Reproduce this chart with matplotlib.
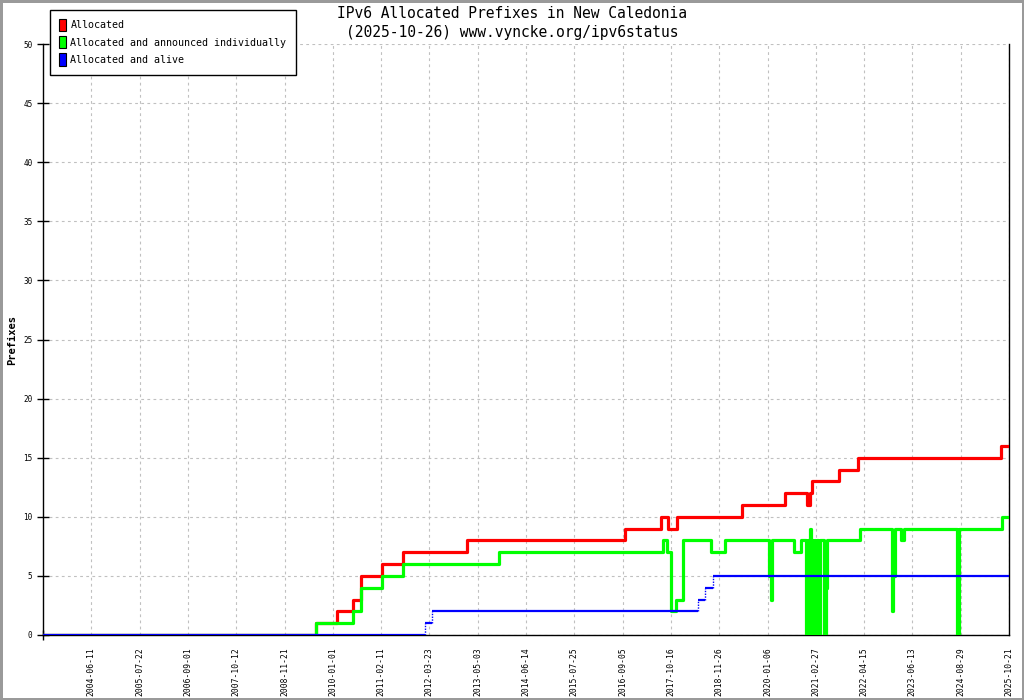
import numpy as np
import pandas as pd
import matplotlib
matplotlib.use('Agg')
import matplotlib.pyplot as plt
import matplotlib.dates as mdates
from matplotlib.patches import Patch

# Etiquetas del eje x (la escala del original es a tramos entre etiquetas)
x_knots = ['2003-05-02', '2004-06-11', '2005-07-22', '2006-09-01', '2007-10-12',
           '2008-11-21', '2010-01-01', '2011-02-11', '2012-03-23', '2013-05-03',
           '2014-06-14', '2015-07-25', '2016-09-05', '2017-10-16', '2018-11-26',
           '2020-01-06', '2021-02-27', '2022-04-15', '2023-06-13', '2024-08-29',
           '2025-10-21']

# Allocated
alloc_dates = ['2003-05-02', '2009-08-10', '2010-02-06', '2010-06-21', '2010-08-30',
               '2011-02-19', '2011-08-10', '2013-02-03', '2016-09-23', '2017-07-26',
               '2017-09-20', '2017-12-07', '2019-06-02', '2020-06-07', '2020-12-15',
               '2021-01-07', '2021-01-25', '2021-09-15', '2022-02-24', '2025-08-12',
               '2025-10-21']
alloc_vals = [0, 1, 2, 3, 5, 6, 7, 8, 9, 10, 9, 10, 11, 12, 11, 12, 13, 14, 15, 16, 16]

# Allocated and announced individually
announced_dates = ['2003-05-02', '2009-08-10', '2010-06-21', '2010-08-30', '2011-02-19',
                   '2011-08-10', '2013-10-27', '2017-08-07', '2017-09-14', '2017-10-15',
                   '2017-12-02', '2018-01-22', '2018-09-14', '2019-01-15', '2020-01-22',
                   '2020-02-04', '2020-02-17', '2020-08-22', '2020-10-26', '2020-12-08',
                   '2020-12-25', '2020-12-30', '2021-01-12', '2021-01-20', '2021-02-05',
                   '2021-02-19', '2021-02-24', '2021-03-13', '2021-03-17', '2021-04-07',
                   '2021-05-11', '2021-05-24', '2021-06-04', '2022-03-10', '2022-12-18',
                   '2022-12-28', '2023-01-10', '2023-03-09', '2023-03-30', '2024-07-30',
                   '2024-08-15', '2025-08-18', '2025-10-21']
announced_vals = [0, 1, 2, 4, 5, 6, 7, 8, 7, 2, 3, 8, 7, 8, 5, 3, 8, 7, 8, 0,
                  8, 0, 9, 8, 0, 8, 0, 8, 0, 8, 0, 4, 8, 9, 2, 5, 9, 8, 9, 0,
                  9, 10, 10]

# Allocated and alive
alive_dates = ['2003-05-02', '2012-02-19', '2012-04-10', '2018-06-02', '2018-07-28',
               '2018-10-03', '2025-10-21']
alive_vals = [0, 1, 2, 3, 4, 5, 5]

tick_labels = x_knots[1:]

def to_num(d):
    return mdates.date2num(pd.to_datetime(d))

knots = to_num(x_knots)
pos = np.arange(len(knots), dtype=float)

def fwd(x):
    return np.interp(x, knots, pos)

def inv(p):
    return np.interp(p, pos, knots)

mono = 'DejaVu Sans Mono'

fig = plt.figure(figsize=(10.24, 7), dpi=100)
fig.patch.set_edgecolor('#9a9a9a')
fig.patch.set_linewidth(2.5)
ax = fig.add_axes([43 / 1024, 65 / 700, 966 / 1024, 591 / 700])
ax.set_xscale('function', functions=(fwd, inv))

ax.step(to_num(alloc_dates), alloc_vals, where='post', color='#ff0000', lw=2.3, zorder=3)
ax.step(to_num(announced_dates), announced_vals, where='post', color='#00ff00', lw=2.3, zorder=4)

# azul: horizontales continuas, verticales punteadas
ad = to_num(alive_dates)
ax.hlines(alive_vals[:-1], ad[:-1], ad[1:], color='#0000ff', lw=1.6, zorder=5)
ax.vlines(ad[1:-1], alive_vals[:-2], alive_vals[1:-1], color='#0000ff', lw=1.0,
          linestyles=(0, (1, 1)), zorder=5)

ax.set_xlim(knots[0], knots[-1])
ax.set_ylim(0, 50)

ax.set_xticks(knots[1:])
ax.set_xticklabels(tick_labels, rotation=90, fontsize=5.8, family=mono)
ax.set_xticks(knots[::2], minor=True)
ax.tick_params(axis='x', which='major', length=0, pad=9)
ax.tick_params(axis='x', which='minor', direction='inout', length=7, width=1)

ax.set_yticks(range(0, 51, 5))
ax.set_yticklabels([str(v) for v in range(0, 51, 5)], fontsize=5.5, family=mono)
ax.tick_params(axis='y', direction='inout', length=9, width=1, pad=3)

ax.grid(True, which='major', color='#c0c0c0', linestyle=(0, (2.5, 3)), lw=0.8)
ax.set_axisbelow(True)

ax.spines['top'].set_visible(False)
for s in ['left', 'bottom', 'right']:
    ax.spines[s].set_linewidth(1)

fig.text(12 / 1024, 1 - 340 / 700, 'Prefixes', rotation=90, ha='center', va='center',
         family=mono, fontsize=7.5, fontweight='bold')

fig.text(0.5, 1 - 14 / 700, 'IPv6 Allocated Prefixes in New Caledonia',
         ha='center', va='center', family=mono, fontsize=10.5)
fig.text(0.5, 1 - 32 / 700, '(2025-10-26) www.vyncke.org/ipv6status',
         ha='center', va='center', family=mono, fontsize=10.5)

handles = [Patch(facecolor='#ff0000', edgecolor='black', lw=0.8),
           Patch(facecolor='#00ff00', edgecolor='black', lw=0.8),
           Patch(facecolor='#0000ff', edgecolor='black', lw=0.8)]
leg = ax.legend(handles, ['Allocated', 'Allocated and announced individually',
                          'Allocated and alive'],
                loc='upper left', bbox_to_anchor=(50 / 1024, 1 - 10 / 700),
                bbox_transform=fig.transFigure, prop={'family': mono, 'size': 7.2},
                handlelength=0.7, handleheight=1.5, handletextpad=0.45,
                labelspacing=0.5, borderpad=0.9, borderaxespad=0,
                fancybox=False, framealpha=1, edgecolor='black')
leg.get_frame().set_linewidth(1)

fig.savefig('out.png', dpi=100)
